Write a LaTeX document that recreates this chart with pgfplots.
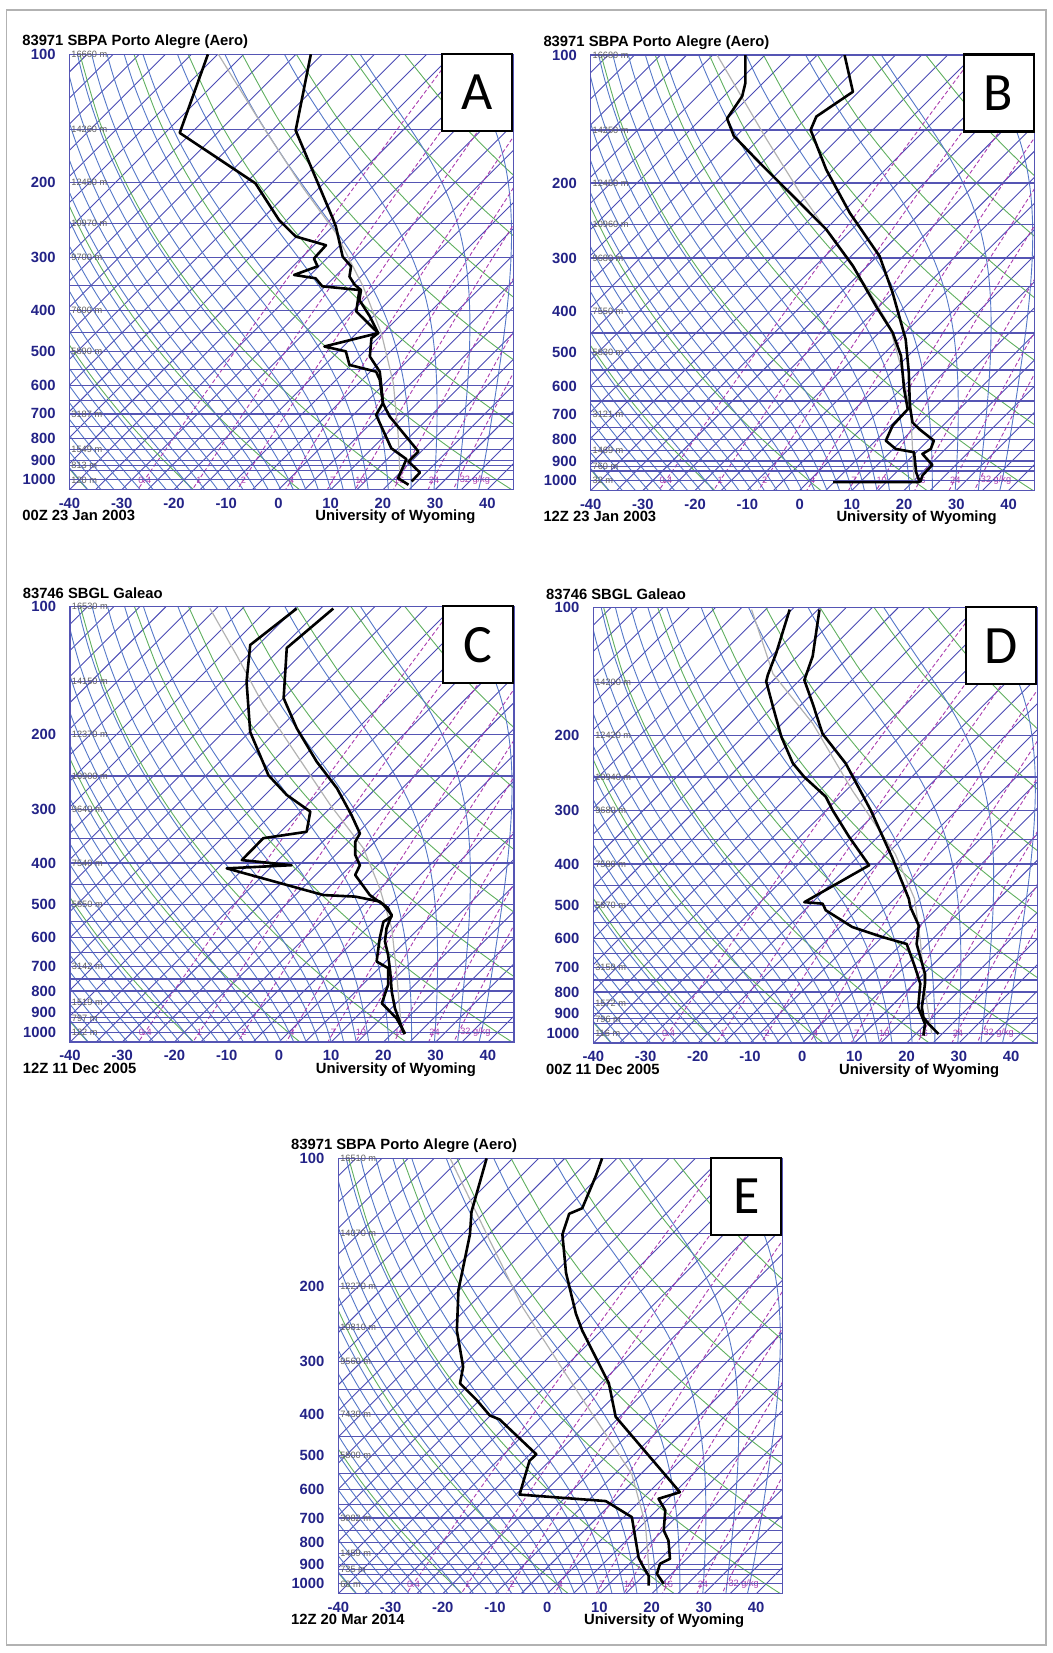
\documentclass[border=0pt]{standalone}
\usepackage{fontspec}
\setmainfont{Liberation Sans}
\newfontfamily\carlito{Carlito}
\usepackage{pgfplots}
\pgfplotsset{compat=1.18}
\definecolor{navyc}{RGB}{35,35,135}
\definecolor{isob}{RGB}{85,85,180}
\definecolor{isot}{RGB}{75,75,180}
\definecolor{moistc}{RGB}{85,120,200}
\definecolor{dryc}{RGB}{95,175,95}
\definecolor{mixc}{RGB}{170,60,175}
\definecolor{hgtc}{RGB}{95,95,95}

\pgfplotsset{
 myskew/.style={
  scale only axis, width=222pt, height=217.7pt, anchor=north west,
  xmin=-40, xmax=45, ymin=100, ymax=1055,
  xtick={-40,-30,-20,-10,0,10,20,30,40},
  xticklabels={-40,-30,-20,-10,0,10,20,30,40},
  ytick={100,200,300,400,500,600,700,800,900,1000},
  yticklabels={100,200,300,400,500,600,700,800,900,1000},
  minor ytick={150,250,350,450,550,650,750,850,925,950},
  ymajorgrids, yminorgrids,
  major grid style={isob, line width=0.6pt},
  minor grid style={isob, line width=0.6pt},
  major tick length=0pt, minor tick length=0pt,
  axis line style={isob, line width=0.7pt},
  tick label style={font=\fontsize{7.4}{8}\selectfont\bfseries, text=navyc},
  xticklabel style={yshift=-0.6pt},
  yticklabel style={xshift=-3.4pt},
  clip mode=individual,
 },
 isoth/.style={isot, line width=0.45pt, domain=0:2.3561, samples=2, forget plot},
 dryad/.style={dryc, line width=0.45pt, domain=100:1055, samples=24, smooth, forget plot},
 moistad/.style={moistc, line width=0.45pt, samples=26, smooth, forget plot},
 mixr/.style={mixc, line width=0.45pt, dash pattern=on 2pt off 1.2pt, domain=100:1055, samples=10, forget plot},
 tline/.style={black, line width=1.3pt, line join=round},
 pline/.style={gray!60, line width=0.6pt, line join=round},
}
\tikzset{
 hlab/.style={anchor=west, inner sep=0.8pt, font=\fontsize{4.6}{5}\selectfont, text=hgtc},
 mlab/.style={inner sep=0pt, font=\fontsize{4.6}{5}\selectfont, text=mixc},
 ttl/.style={inner sep=0pt, font=\fontsize{7.4}{8}\selectfont\bfseries},
 letterbox/.style={draw=black, line width=1.1pt, fill=white, minimum width=35pt, minimum height=38.5pt,
   anchor=north east, inner sep=0pt, font=\carlito\fontsize{27}{27}\selectfont},
 gridnode/.style={anchor=north west, inner sep=0pt, outer sep=0pt},
}
\newcommand\hgt[2]{\node[hlab] at (axis cs:-40,#1) {#2 m};}
\newcommand\panellabels[3]{%
 \node[ttl, anchor=base west, xshift=-23.8pt, yshift=4.3pt] at (axis description cs:0,1) {#1};
 \node[ttl, anchor=base west, xshift=-23.8pt, yshift=-15.6pt] at (axis description cs:0,0) {#2};
 \node[ttl, anchor=base, yshift=-15.6pt] at (axis description cs:0.734,0) {University of Wyoming};
 \node[letterbox, yshift=0.8pt] at (axis description cs:1,1) {#3};
}
\newsavebox\gridbox

\begin{document}
% Fixed Skew-T log-P reference lines (the printed diagram template, not data):
% isotherms, dry adiabats, moist adiabats and saturation mixing-ratio lines.
% Drawn once into a box and reused under every panel.
\sbox\gridbox{%
\begin{tikzpicture}[declare function={
 esat(\qa)=6.112*exp(17.67*\qa/(\qa+243.5));
 pst(\qa,\qb,\qc,\qd)=(\qd)^0.4*(1000*((\qa+273.15)*exp(1548.8*\qc/((\qd-\qc)*(\qa+273.15)))/\qb)^3.5)^0.6;
 pmi(\qa,\qb,\qc)=pst(\qa,\qb,\qc,pst(\qa,\qb,\qc,pst(\qa,\qb,\qc,pst(\qa,\qb,\qc,1000*((\qa+273.15)/\qb)^3.5))));
 pmo(\qa,\qb)=pmi(\qa,\qb,esat(\qa));}]
\begin{axis}[name=g, ymode=log, y dir=reverse, scale only axis, width=222pt, height=217.7pt,
  xmin=-40, xmax=45, ymin=100, ymax=1055, hide axis, clip mode=individual,
  at={(0,0)}, anchor=south west]
 \pgfplotsinvokeforeach{-125,-120,...,45}{\addplot[isoth] ({#1+35.38*x},{1055*exp(-x)});}
 \pgfplotsinvokeforeach{233,253,...,473}{\addplot[dryad] ({#1*(x/1000)^0.2857-273.15+35.38*ln(1055/x)},{x});}
 \foreach \w/\lo/\th in {-40/-46/233.44, -37.5/-49/236.03, -35/-52/238.64, -32.5/-55/241.27,
   -30/-58.5/243.94, -27.5/-61.5/246.65, -25/-65/249.41, -22.5/-68/252.22, -20/-72/255.11,
   -17.5/-76/258.07, -15/-80/261.14, -12.5/-84/264.32, -10/-88/267.64, -7.5/-93/271.12,
   -5/-98.5/274.79, -2.5/-104.5/278.69, 0/-111.5/282.84, 2.5/-120.5/287.30, 5/-123/292.11,
   7.5/-120.5/297.34, 10/-117.5/303.06, 12.5/-114.5/309.35, 15/-111/316.29, 19/-104/329.08,
   23.5/-95/346.61, 28/-83.5/368.62, 32.5/-69/396.76, 37/-50/433.62}{%
   \edef\tmp{\noexpand\addplot[moistad, domain=\lo:\w+4.5] ({x+35.38*ln(1055/pmo(x,\th))},{pmo(x,\th)});}\tmp}
 \pgfplotsinvokeforeach{0.4,1,2,4,7,10,16,24,32}{\addplot[mixr] ({243.5*ln(#1*x/(622+#1)/6.112)/(17.67-ln(#1*x/(622+#1)/6.112))+35.38*ln(1055/x)},{x});}
 \node[mlab] at (axis cs:-25.6,1000) {0.4};
 \node[mlab] at (axis cs:-15.2,1000) {1};
 \node[mlab] at (axis cs:-6.7,1000) {2};
 \node[mlab] at (axis cs:2.5,1000) {4};
 \node[mlab] at (axis cs:10.4,1000) {7};
 \node[mlab] at (axis cs:15.7,1000) {10};
 \node[mlab] at (axis cs:23.1,1000) {16};
 \node[mlab] at (axis cs:29.8,1000) {24};
 \node[mlab] at (axis cs:37.6,1000) {32 g/kg};
\end{axis}
\pgfresetboundingbox
\path[use as bounding box] (g.south west) rectangle (g.north east);
\end{tikzpicture}}%
\begin{tikzpicture}
\path[use as bounding box] (0,0) rectangle (526.5pt,-826.5pt);
\draw[gray!60, line width=0.6pt] (3.35pt,-5pt) rectangle (523pt,-822.5pt);

% ---------------- A ----------------
\node[gridnode] at (34.75pt,-27.15pt) {\usebox\gridbox};
\begin{axis}[ymode=log, y dir=reverse, myskew, at={(34.75pt,-27.15pt)}]
\addplot[pline] coordinates {(-11.5,100) (-2.5,151) (4.6,205) (11.0,263) (16.2,351) (19.7,452) (22.0,593) (22.9,777) (23.3,1000)};
\addplot[tline] coordinates {(-13.5,100) (-18.9,153) (-4.4,201) (0.1,245) (3.3,268) (9.1,281) (6.8,302) (7.5,315) (3.0,330) (7.1,336) (8.4,351) (15.5,358) (14.9,402) (19.1,452) (8.8,486) (12.9,499) (13.6,537) (18.7,557) (19.4,582) (20.0,660) (18.7,704) (21.6,843) (24.5,894) (23.9,930) (22.9,991) (24.9,1027)};
\addplot[tline] coordinates {(6.2,100) (3.3,151) (10.4,243) (11.0,254) (12.3,299) (13.9,315) (13.6,333) (14.6,348) (15.8,358) (15.5,378) (17.5,413) (19.1,452) (17.8,465) (17.5,513) (19.4,557) (19.7,603) (20.0,660) (21.3,710) (26.8,858) (24.9,906) (27.1,961) (25.5,1009)};
\hgt{100}{16660}\hgt{150}{14260}\hgt{200}{12450}\hgt{250}{10970}\hgt{300}{9700}\hgt{400}{7600}\hgt{500}{5890}\hgt{700}{3187}\hgt{850}{1549}\hgt{925}{813}\hgt{1000}{120}
\panellabels{83971 SBPA Porto Alegre (Aero)}{00Z 23 Jan 2003}{A}
\end{axis}

% ---------------- B ----------------
\node[gridnode] at (295.35pt,-27.5pt) {\usebox\gridbox};
\begin{axis}[ymode=log, y dir=reverse, myskew, at={(295.35pt,-27.5pt)}]
\addplot[pline] coordinates {(-15.8,100) (-6.3,158) (0.1,211) (6.4,271) (12.7,349) (17.2,433) (19.7,557) (21.3,704) (21.9,1000)};
\addplot[tline] coordinates {(-10.4,100) (-10.4,116.5) (-11.0,125) (-13.9,141) (-12.6,155) (-7.5,180) (0.1,223) (5.1,257) (10.2,313) (14.6,389) (17.8,449) (19.4,509) (20.0,610) (20.7,680) (17.8,743) (16.5,806) (18.4,843) (21.9,858) (22.3,956) (22.9,1000) (22.8,1009) (6.4,1009)};
\addplot[tline] coordinates {(8.6,100) (10.2,122) (3.2,139.5) (2.1,150) (5.1,186) (9.6,235) (15.3,297) (17.8,362) (20.3,466) (20.9,557) (21.1,667) (21.6,730) (22.9,757) (25.7,806) (25.1,843) (23.5,866) (25.4,919) (23.5,973) (23.2,1000) (23.0,1009)};
\hgt{100}{16680}\hgt{150}{14250}\hgt{200}{12450}\hgt{250}{10960}\hgt{300}{9680}\hgt{400}{7550}\hgt{500}{5830}\hgt{700}{3121}\hgt{850}{1469}\hgt{925}{760}\hgt{1000}{32}
\panellabels{83971 SBPA Porto Alegre (Aero)}{12Z 23 Jan 2003}{B}
\end{axis}

% ---------------- C ----------------
\node[gridnode] at (35pt,-303.35pt) {\usebox\gridbox};
\begin{axis}[ymode=log, y dir=reverse, myskew, at={(35pt,-303.35pt)}]
\addplot[pline] coordinates {(-13.2,101) (-8.1,130) (-3.0,170) (3.4,223) (9.8,292) (16.2,370) (19.3,459) (21.6,570) (22.5,720) (23.5,996)};
\addplot[tline] coordinates {(3.4,101) (-5.5,123) (-6.2,150) (-5.5,197) (-2.0,249) (1.5,277) (6.0,303) (5.3,338) (-3.0,350) (-7.1,394) (2.4,405) (-10.0,412) (8.5,476) (14.6,480) (19.3,493) (20.9,511) (21.6,534) (20.0,550) (19.3,601) (18.7,682) (20.9,707) (20.9,774) (19.7,855) (22.5,927) (24.1,1005)};
\addplot[tline] coordinates {(10.4,101) (1.5,125) (0.9,164) (3.4,193) (7.2,231) (11.1,267) (13.9,309) (15.5,341) (14.6,357) (14.6,383) (15.5,405) (14.6,427) (17.4,476) (20.0,502) (21.6,530) (20.6,570) (20.3,612) (20.9,658) (21.3,720) (21.6,803) (22.2,878) (23.8,996) (24.1,1010)};
\hgt{100}{16530}\hgt{150}{14150}\hgt{200}{12370}\hgt{250}{10900}\hgt{300}{9640}\hgt{400}{7540}\hgt{500}{5850}\hgt{700}{3142}\hgt{850}{1519}\hgt{925}{797}\hgt{1000}{122}
\panellabels{83746 SBGL Galeao}{12Z 11 Dec 2005}{C}
\end{axis}

% ---------------- D ----------------
\node[gridnode] at (296.65pt,-303.85pt) {\usebox\gridbox};
\begin{axis}[ymode=log, y dir=reverse, myskew, at={(296.65pt,-303.85pt)}]
\addplot[pline] coordinates {(-9.7,101) (-5.6,143) (2.0,187) (9.6,269) (17.8,379) (21.5,483) (22.6,605) (23.5,794) (24.8,1004)};
\addplot[tline] coordinates {(-2.4,101) (-5.0,128) (-6.6,144) (-6.9,149) (-5.6,171) (-4.0,201) (-1.8,232) (0.4,250) (4.5,278) (5.8,299) (9.0,346) (12.8,403) (0.4,492) (3.9,496) (4.5,514) (9.6,563) (15.3,594) (20.0,617) (21.6,700) (22.6,765) (22.2,869) (23.5,951) (23.2,1013)};
\addplot[tline] coordinates {(3.3,101) (2.0,130) (0.4,148) (2.0,168) (3.9,198) (8.3,232) (13.1,299) (17.2,386) (20.4,483) (20.7,505) (22.3,558) (21.9,617) (23.5,725) (23.5,765) (22.9,869) (23.2,917) (24.2,951) (26.1,1004)};
\hgt{150}{14200}\hgt{200}{12420}\hgt{250}{10940}\hgt{300}{9680}\hgt{400}{7580}\hgt{500}{5870}\hgt{700}{3159}\hgt{850}{1572}\hgt{925}{796}\hgt{1000}{116}
\panellabels{83746 SBGL Galeao}{00Z 11 Dec 2005}{D}
\end{axis}

% ---------------- E ----------------
\node[gridnode] at (169.15pt,-579.15pt) {\usebox\gridbox};
\begin{axis}[ymode=log, y dir=reverse, myskew, at={(169.15pt,-579.15pt)}]
\addplot[pline] coordinates {(-18.6,100) (-11.0,156) (-4.7,224) (3.6,322) (11.2,445) (16.2,553) (18.8,725) (19.7,1000)};
\addplot[tline] coordinates {(-11.6,100) (-14.5,133.5) (-14.8,151) (-17.0,204) (-17.3,254) (-16.1,309) (-16.7,338) (-13.5,370) (-11.0,402) (-9.1,411) (-2.1,496) (-3.4,514) (-5.3,617) (11.2,639) (16.2,697) (17.5,869) (18.5,917) (19.4,956) (19.4,1009)};
\addplot[tline] coordinates {(10.5,100) (9.3,110) (6.7,131) (4.2,135) (2.9,151) (3.6,186) (5.5,232) (6.7,254) (11.8,338) (13.1,405) (25.4,609) (21.3,631) (22.6,672) (22.3,749) (23.2,791) (23.5,873) (21.6,897) (21.0,947) (22.3,1000)};
\hgt{100}{16510}\hgt{150}{14070}\hgt{200}{12270}\hgt{250}{10810}\hgt{300}{9560}\hgt{400}{7430}\hgt{500}{5800}\hgt{700}{3082}\hgt{850}{1459}\hgt{925}{735}\hgt{1000}{68}
\panellabels{83971 SBPA Porto Alegre (Aero)}{12Z 20 Mar 2014}{E}
\end{axis}
\end{tikzpicture}
\end{document}
